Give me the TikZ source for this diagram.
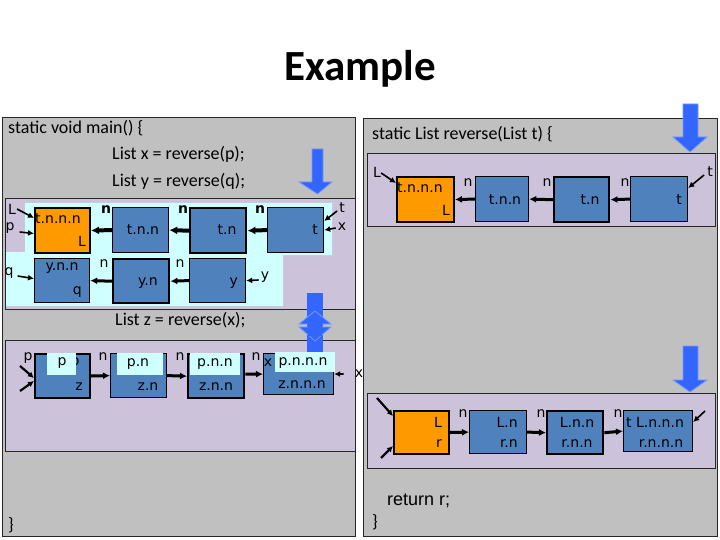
\documentclass[tikz,border=0pt]{standalone}
\usepackage{fontspec}
\usetikzlibrary{arrows.meta}
\newfontfamily\calfont{Carlito}
\newfontfamily\tahfont{DejaVu Sans}
\newfontfamily\arfont{Liberation Sans}
\newcommand\lblfont{\tahfont\fontsize{14}{16}\selectfont}
\newcommand\codefont{\calfont\fontsize{18}{20}\selectfont}
\definecolor{panelgray}{RGB}{192,192,192}
\definecolor{lav}{RGB}{204,194,218}
\definecolor{lcyan}{RGB}{208,255,255}
\definecolor{boxblue}{RGB}{79,129,189}
\definecolor{boxorange}{RGB}{255,153,0}
\definecolor{arrblue}{RGB}{51,102,255}
\definecolor{arrlight}{RGB}{120,150,255}
\tikzset{
 panel/.style={fill=panelgray, draw=black!85, line width=1pt},
 lavbg/.style={fill=lav, draw=black!85, line width=1pt},
 cell/.style={draw=black, fill=boxblue, line width=1.2pt, inner sep=0pt, anchor=north west},
 thickcell/.style={cell, line width=2.4pt},
 ocell/.style={cell, fill=boxorange, line width=2pt},
 lbl/.style={font=\lblfont, inner sep=0pt, text=black},
 nb/.style={lbl, font=\lblfont\bfseries},
 code/.style={font=\codefont, inner sep=0pt, anchor=base west},
 ptr/.style={-{Latex[length=6pt,width=6pt]}, line width=1.6pt},
 link/.style={-{Latex[length=7pt,width=7pt]}, line width=3pt},
 biglink/.style={-{Latex[length=8pt,width=8pt]}, line width=4pt},
 hl/.style={fill=lcyan, draw=none},
 bluearrow/.style={fill=arrblue, draw=arrlight, line width=0.8pt},
}
\begin{document}
\begin{tikzpicture}[x=1pt,y=-1pt]
\useasboundingbox (0,0) rectangle (720,540);
\fill[white] (0,0) rectangle (720,540);
% title
\node[font=\calfont\bfseries\fontsize{43}{46}\selectfont, inner sep=0pt, anchor=base] (title) at (360,81) {Example};
% panels
\draw[panel] (2,118) rectangle (355,536);
\draw[panel] (363,119) rectangle (717,536);
\draw[lavbg] (5,199) rectangle (355,309);
\draw[lavbg] (5,340) rectangle (355,451);
\draw[lavbg] (367,154) rectangle (715,227);
\draw[lavbg] (367,393) rectangle (715,468);
% cyan background (main)
\fill[lcyan] (25,203) -- (332,203) -- (332,255) -- (283,255) -- (283,306) -- (6,306) -- (6,252) -- (25,252) -- cycle;
% code text
\node[code] (c1) at (8,134) {static void main() \{};
\node[code] (c2) at (112,160) {List x = reverse(p);};
\node[code] (c3) at (112,187) {List y = reverse(q);};
\node[code] (c4) at (115,325) {List z = reverse(x);};
\node[code] (c5) at (8,530) {\}};
\node[code] (c6) at (372,140) {static List reverse(List t) \{};
\node[font=\arfont\fontsize{18}{20}\selectfont, inner sep=0pt, anchor=base west] (c7) at (387,505) {return r;};
\node[code] (c8) at (372,527) {\}};
% blue arrows
\draw[bluearrow] (312,149) -- (323,149) -- (323,182) -- (332,182) -- (317.5,194) -- (299,182) -- (312,182) -- cycle;
\draw[bluearrow] (683,104) -- (698,104) -- (698,137) -- (707,137) -- (690,152) -- (673,137) -- (683,137) -- cycle;
\draw[bluearrow] (683,346) -- (698,346) -- (698,380) -- (707,380) -- (690,392) -- (673,380) -- (683,380) -- cycle;
\fill[arrblue] (307,293) rectangle (323,352);
\draw[bluearrow] (299,324) -- (315,311) -- (331,324) -- cycle;
\draw[bluearrow] (299,327) -- (331,327) -- (315,341) -- cycle;
\fill[arrblue] (308,318) rectangle (322,336);

% ===== main: list t (x) =====
\node[ocell, minimum width=55pt, minimum height=45pt] (m1) at (34,207) {};
\node[cell, minimum width=56pt, minimum height=45pt] (m2) at (112,207) {};
\node[thickcell, minimum width=56pt, minimum height=45pt] (m3) at (189,207) {};
\node[cell, minimum width=56pt, minimum height=45pt] (m4) at (267,207) {};
\node[lbl, anchor=west] (m1a) at (35,219) {t.n.n.n};
\node[lbl, anchor=east] (m1b) at (86,241) {L};
\node[lbl] (m2a) at (143,230) {t.n.n};
\node[lbl] (m3a) at (227,230) {t.n};
\node[lbl, anchor=east] (m4a) at (318,230) {t};
\node[nb] (mn1) at (106,210) {n};
\node[nb] (mn2) at (183,210) {n};
\node[nb] (mn3) at (260,210) {n};
\draw[biglink] (m2.west) -- (m1.east);
\draw[biglink] (m3.west) -- (m2.east);
\draw[biglink] (m4.west) -- (m3.east);
\node[lbl] (Lm) at (12,209) {L};
\node[lbl] (pm) at (10,228) {p};
\node[lbl] (tm) at (342,208) {t};
\node[lbl] (xm) at (342,227) {x};
\draw[ptr] ([xshift=1pt]Lm.east) -- ([yshift=-11pt]m1.north west);
\draw[ptr] ([xshift=5pt,yshift=-4pt]pm.east) -- ([yshift=-3pt]m1.west);
\draw[ptr] ([xshift=-2pt,yshift=-3pt]tm.west) -- ([yshift=-14pt]m4.north east);
\draw[ptr] ([xshift=-2pt,yshift=-1pt]xm.west) -- (m4.east);
% ===== main: list q (y) =====
\node[cell, minimum width=55pt, minimum height=44pt] (q1) at (34,258) {};
\node[thickcell, minimum width=56pt, minimum height=44pt] (q2) at (112,258) {};
\node[cell, minimum width=56pt, minimum height=44pt] (q3) at (189,258) {};
\node[lbl] (q1a) at (62,268) {y.n.n};
\node[lbl, anchor=east] (q1b) at (82,292) {q};
\node[lbl] (q2a) at (148,283) {y.n};
\node[lbl, anchor=east] (q3a) at (238,283) {y};
\node[lbl] (qn1) at (104,264) {n};
\node[lbl] (qn2) at (180,264) {n};
\draw[link] (q2.west) -- (q1.east);
\draw[link] (q3.west) -- (q2.east);
\node[lbl] (qm) at (9,273) {q};
\node[lbl] (ym) at (265,277) {y};
\draw[ptr] ([xshift=4pt,yshift=-3pt]qm.east) -- ([yshift=2pt]q1.west);
\draw[ptr] ([xshift=-2pt,yshift=-3pt]ym.west) -- (q3.east);

% ===== reverse panel: list t =====
\node[ocell, minimum width=57pt, minimum height=45pt] (r1) at (396,176) {};
\node[cell, minimum width=53pt, minimum height=45pt] (r2) at (475,176) {};
\node[thickcell, minimum width=55pt, minimum height=45pt] (r3) at (553,176) {};
\node[cell, minimum width=57pt, minimum height=45pt] (r4) at (630,176) {};
\node[lbl, anchor=west] (r1a) at (397,188) {t.n.n.n};
\node[lbl, anchor=east] (r1b) at (450,210) {L};
\node[lbl] (r2a) at (505,200) {t.n.n};
\node[lbl] (r3a) at (590,200) {t.n};
\node[lbl, anchor=east] (r4a) at (682,200) {t};
\node[lbl] (rn1) at (468,183) {n};
\node[lbl] (rn2) at (547,183) {n};
\node[lbl] (rn3) at (625,183) {n};
\draw[link] (r2.west) -- (r1.east);
\draw[link] (r3.west) -- (r2.east);
\draw[link] (r4.west) -- (r3.east);
\node[lbl] (Lr) at (377,172) {L};
\node[lbl] (tr) at (710,172) {t};
\draw[ptr] ([xshift=0pt,yshift=-1pt]Lr.east) -- ([yshift=-7pt]r1.north west);
\draw[ptr] ([xshift=-3pt,yshift=-3pt]tr.west) -- ([yshift=-12pt]r4.north east);

% ===== main: list z =====
\node[lbl] (pz) at (28,358) {p};
\node[thickcell, line width=2pt, minimum width=55pt, minimum height=44pt] (z1) at (34,353) {};
\node[cell, minimum width=56pt, minimum height=44pt] (z2) at (110,353) {};
\node[thickcell, minimum width=56pt, minimum height=44pt] (z3) at (187,353) {};
\node[cell, minimum width=70pt, minimum height=41pt] (z4) at (263,353) {};
\node[lbl] (z1h) at (75,363) {p};
\node[lbl] (z4h) at (268,363) {x};
\fill[lcyan] (47,353) rectangle (76,375);
\fill[lcyan] (117,353) rectangle (163,375);
\fill[lcyan] (190,353) rectangle (240,375);
\fill[lcyan] (275,352) rectangle (335,372);
\node[lbl] (z1a) at (62,363) {p};
\node[lbl, anchor=east] (z1b) at (83,387) {z};
\node[lbl] (z2a) at (138,364) {p.n};
\node[lbl] (z2b) at (148,387) {z.n};
\node[lbl] (z3a) at (215,364) {p.n.n};
\node[lbl] (z3b) at (216,387) {z.n.n};
\node[lbl] (z4a) at (303,363) {p.n.n.n};
\node[lbl] (z4b) at (302,385) {z.n.n.n};
\node[lbl] (zn1) at (103,357) {n};
\node[lbl] (zn2) at (180,357) {n};
\node[lbl] (zn3) at (256,357) {n};
\draw[link] (z1.east) -- (z2.west);
\draw[link] (z2.east) -- (z3.west);
\draw[link] ([yshift=2pt]z3.east) -- ([yshift=0pt]z4.west);
\coordinate (zin1) at (20,366);
\coordinate (zin2) at (20,391);
\draw[ptr, line width=2.2pt] (zin1) -- ([yshift=-25pt]z1.north west);
\draw[ptr, line width=2.2pt] (zin2) -- ([yshift=-28pt]z1.north west);
\node[lbl] (xz) at (359,374) {x};
\draw[ptr] ([xshift=-11pt]xz.west) -- (z4.east);

% ===== reverse panel: list r =====
\node[ocell, minimum width=55pt, minimum height=43pt] (b1) at (393,410) {};
\node[cell, minimum width=57pt, minimum height=43pt] (b2) at (469,410) {};
\node[thickcell, minimum width=56pt, minimum height=43pt] (b3) at (546,410) {};
\node[cell, minimum width=69pt, minimum height=41pt] (b4) at (623,410) {};
\node[lbl, anchor=east] (b1a) at (442,422) {L};
\node[lbl, anchor=east] (b1b) at (442,444) {r};
\node[lbl, anchor=east] (b2a) at (518,422) {L.n};
\node[lbl, anchor=east] (b2b) at (518,444) {r.n};
\node[lbl] (b3a) at (577,422) {L.n.n};
\node[lbl] (b3b) at (577,444) {r.n.n};
\node[lbl, anchor=west] (b4a) at (626,422) {t L.n.n.n};
\node[lbl] (b4b) at (661,444) {r.n.n.n};
\node[lbl] (bn1) at (463,414) {n};
\node[lbl] (bn2) at (541,414) {n};
\node[lbl] (bn3) at (618,414) {n};
\draw[link] (b1.east) -- (b2.west);
\draw[link] (b2.east) -- (b3.west);
\draw[link] (b3.east) -- (b4.west);
\coordinate (bin1) at (377,398);
\coordinate (bin2) at (381,458);
\coordinate (bin3) at (705,411);
\draw[ptr, line width=2.2pt] (bin1) -- ([yshift=-6pt]b1.north west);
\draw[ptr, line width=2.2pt] (bin2) -- ([yshift=9pt]b1.south west);
\draw[ptr] (bin3) -- ([yshift=-12pt]b4.north east);
\end{tikzpicture}
\end{document}
